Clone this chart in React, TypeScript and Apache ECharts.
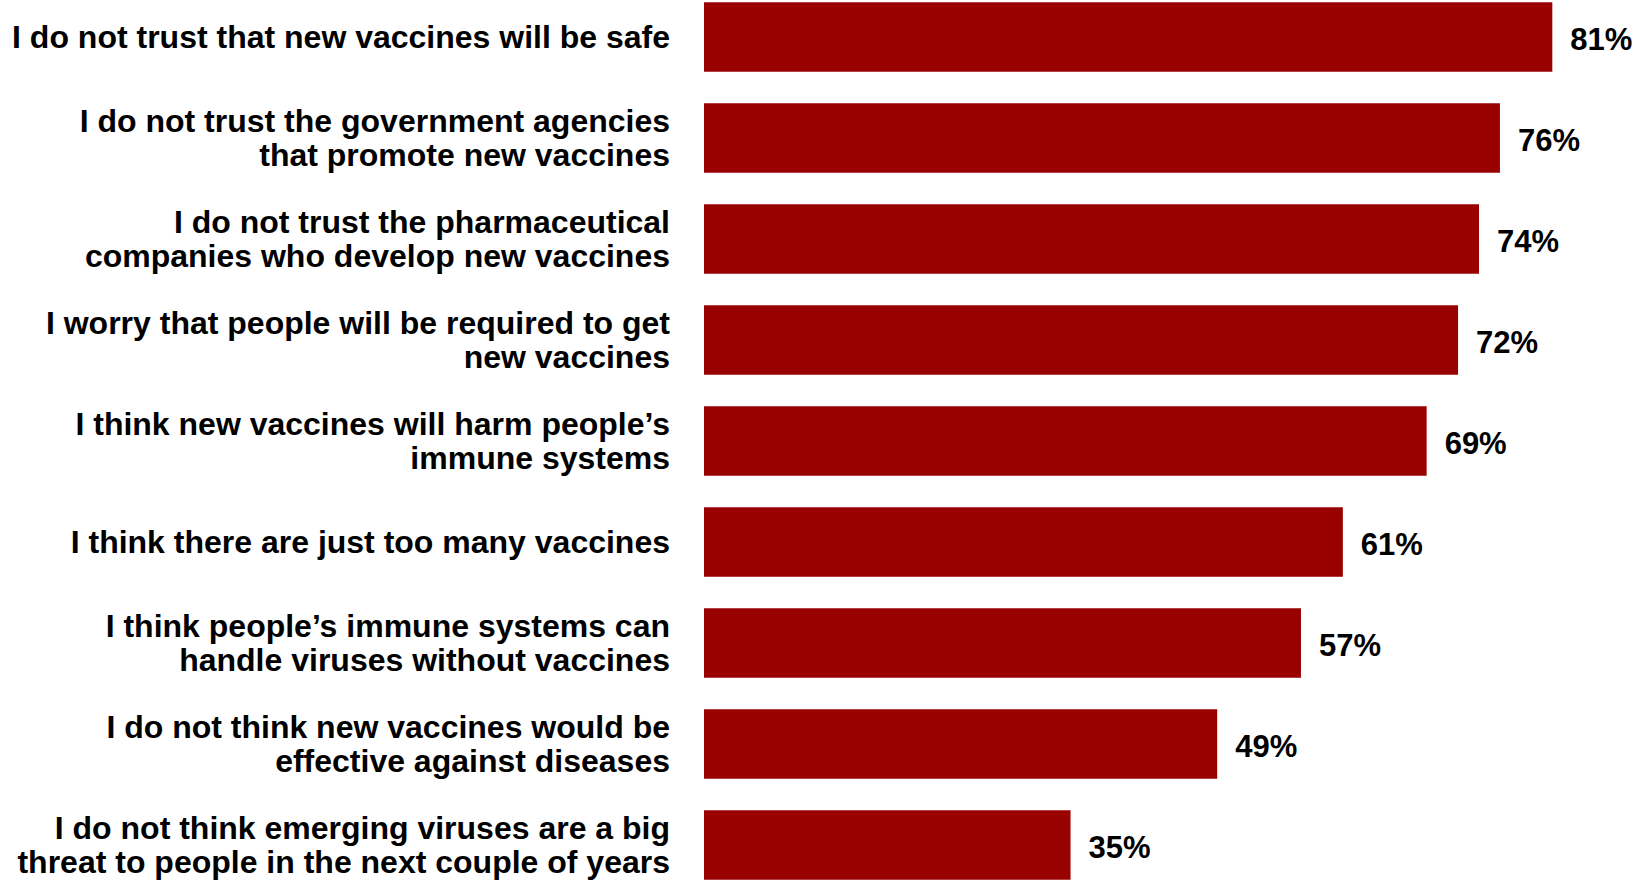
import React, { useEffect, useRef } from "react";
import * as echarts from "echarts";

const categories: string[] = [
  "I do not trust that new vaccines will be safe",
  "I do not trust the government agencies\nthat promote new vaccines",
  "I do not trust the pharmaceutical\ncompanies who develop new vaccines",
  "I worry that people will be required to get\nnew vaccines",
  "I think new vaccines will harm people’s\nimmune systems",
  "I think there are just too many vaccines",
  "I think people’s immune systems can\nhandle viruses without vaccines",
  "I do not think new vaccines would be\neffective against diseases",
  "I do not think emerging viruses are a big\nthreat to people in the next couple of years",
];

const values: number[] = [81, 76, 74, 72, 69, 61, 57, 49, 35];

const FONT = "'Liberation Sans', Arial, Helvetica, sans-serif";

export default function App() {
  const ref = useRef<HTMLDivElement | null>(null);

  useEffect(() => {
    if (!ref.current) return;
    const chart = echarts.init(ref.current, undefined, { renderer: "svg" });
    chart.setOption({
      animation: false,
      backgroundColor: "#ffffff",
      grid: {
        left: 704,
        width: 10.473 * 89,
        top: -13.5,
        height: 909,
        containLabel: false,
        outerBoundsMode: "none",
      },
      xAxis: {
        type: "value",
        min: 0,
        max: 89,
        show: false,
        splitLine: { show: false },
      },
      yAxis: {
        type: "category",
        data: categories,
        inverse: true,
        axisLine: { show: false },
        axisTick: { show: false },
        splitLine: { show: false },
        axisLabel: {
          margin: 34,
          fontSize: 32,
          fontWeight: "bold",
          lineHeight: 34.5,
          color: "#000000",
          fontFamily: FONT,
          align: "right",
        },
      },
      series: [
        {
          type: "bar",
          data: values,
          barWidth: 69.5,
          itemStyle: { color: "#990000" },
          label: {
            show: true,
            position: "right",
            distance: 18,
            formatter: "{c}%",
            fontSize: 31,
            fontWeight: "bold",
            color: "#000000",
            fontFamily: FONT,
            offset: [0, 2],
          },
        },
      ],
    });
    return () => chart.dispose();
  }, []);

  return (
    <div
      ref={ref}
      style={{ position: "fixed", left: 0, top: 0, width: 1641, height: 887 }}
    />
  );
}
